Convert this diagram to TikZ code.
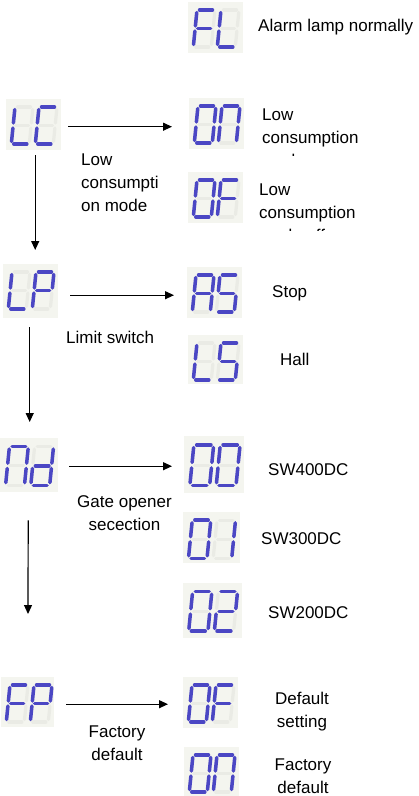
\documentclass[tikz,border=0pt]{standalone}
\usepackage{fontspec}
\setmainfont{Liberation Sans}
\usetikzlibrary{arrows.meta,calc}
\definecolor{lcdbg}{HTML}{F4F5EF}
\definecolor{segoff}{HTML}{EAEBE5}
\definecolor{segon}{HTML}{4B47C4}
\newcommand\ssega[1]{\draw[#1] (2.5,0)--(15.5,0);}
\newcommand\ssegb[1]{\draw[#1] (18,2.5)--(18,16);}
\newcommand\ssegc[1]{\draw[#1] (18,21)--(18,34.5);}
\newcommand\ssegd[1]{\draw[#1] (2.5,37)--(15.5,37);}
\newcommand\ssege[1]{\draw[#1] (0,21)--(0,34.5);}
\newcommand\ssegf[1]{\draw[#1] (0,2.5)--(0,16);}
\newcommand\ssegg[1]{\draw[#1] (2.5,18.5)--(15.5,18.5);}
\newcommand\sevenseg[1]{%
  \foreach \s in {a,b,c,d,e,f,g}{\csname sseg\s\endcsname{segghost}}%
  \foreach \s in {#1}{\csname sseg\s\endcsname{seglit}}%
}
\tikzset{
  segghost/.style={segoff, line width=3.2pt, line cap=round},
  seglit/.style={segon, line width=3.5pt, line cap=round},
  lcdbox/.style={rectangle, fill=lcdbg, inner sep=0pt, minimum width=55pt, minimum height=51pt, anchor=north west},
  lbl/.style={font=\fontsize{17}{23}\selectfont, inner sep=0pt, text=black},
  arr/.style={line width=1.2pt, -{Triangle[length=9pt,width=8pt]}},
  pics/lcd/.style 2 args={code={
    \begin{scope}[shift={(9,8)}, xslant=0.1]\sevenseg{#1}\end{scope}
    \begin{scope}[shift={(33,8)}, xslant=0.1]\sevenseg{#2}\end{scope}
  }}
}
\begin{document}
\begin{tikzpicture}[x=1pt,y=-1pt]
\useasboundingbox[fill=white] (0,0) rectangle (419,796);
% displays
\node[lcdbox] (fl) at (188,2) {};
\pic at (fl.north west) {lcd={a,e,f,g}{d,e,f}};
\node[lcdbox] (lc) at (6,99) {};
\pic at (lc.north west) {lcd={d,e,f}{a,d,e,f}};
\node[lcdbox] (on1) at (189,98) {};
\pic at (on1.north west) {lcd={a,b,c,d,e,f}{a,b,c,e,f}};
\node[lcdbox] (of1) at (188,172) {};
\pic at (of1.north west) {lcd={a,b,c,d,e,f}{a,e,f,g}};
\node[lcdbox, minimum height=54pt] (lp) at (3,264) {};
\pic at (lp.north west) {lcd={d,e,f}{a,b,e,f,g}};
\node[lcdbox] (as) at (187,267) {};
\pic at (as.north west) {lcd={a,b,c,e,f,g}{a,c,d,f,g}};
\node[lcdbox, minimum height=49pt] (ls) at (188,335) {};
\pic at (ls.north west) {lcd={d,e,f}{a,c,d,f,g}};
\node[lcdbox, minimum width=58pt, minimum height=54pt] (nd) at (0,438) {};
\pic[scale=1.05] at (nd.north west) {lcd={a,b,c,e,f}{b,c,d,e,g}};
\node[lcdbox, minimum width=60pt, minimum height=57pt] (d00) at (184,436) {};
\pic[scale=1.1] at (d00.north west) {lcd={a,b,c,d,e,f}{a,b,c,d,e,f}};
\node[lcdbox, minimum width=57pt] (d01) at (183,512) {};
\pic[scale=1.03] at (d01.north west) {lcd={a,b,c,d,e,f}{b,c}};
\node[lcdbox, minimum width=59pt, minimum height=55pt] (d02) at (183,583) {};
\pic[scale=1.07] at (d02.north west) {lcd={a,b,c,d,e,f}{a,b,d,e,g}};
\node[lcdbox, minimum width=53pt, minimum height=50pt] (fp) at (1,677) {};
\pic at (fp.north west) {lcd={a,e,f,g}{a,b,e,f,g}};
\node[lcdbox] (of2) at (183,677) {};
\pic at (of2.north west) {lcd={a,b,c,d,e,f}{a,e,f,g}};
\node[lcdbox] (on2) at (184,747) {};
\pic at (on2.north west) {lcd={a,b,c,d,e,f}{a,b,c,e,f}};
% labels
\node[lbl, anchor=west] (tfl) at (258,27) {Alarm lamp normally};
\begin{scope}
  \clip (250,95) rectangle (419,155);
  \node[lbl, anchor=west, align=left] (ton1) at (262,137.5) {Low\\consumption\\mode on};
\end{scope}
\node[lbl, anchor=west, align=left] (tlc) at (81,182.3) {Low\\consumpti\\on mode};
\begin{scope}
  \clip (250,170) rectangle (419,230.5);
  \node[lbl, anchor=west, align=left] (tof1) at (259,212.3) {Low\\consumption\\mode off};
\end{scope}
\node[lbl, anchor=west] (tas) at (272,293.5) {Stop};
\node[lbl, anchor=west] (tlp) at (66,337.5) {Limit switch};
\node[lbl, anchor=west] (tls) at (280,359) {Hall};
\node[lbl, anchor=west] (t00) at (268,469.5) {SW400DC};
\node[lbl, align=center] (tnd) at (124.5,513.5) {Gate opener\\secection};
\node[lbl, anchor=west] (t01) at (261,539) {SW300DC};
\node[lbl, anchor=west] (t02) at (268,613) {SW200DC};
\node[lbl, align=center] (tfp) at (117,743.5) {Factory\\default};
\node[lbl, align=center] (tof2) at (302,711.3) {Default\\setting};
\node[lbl, align=center] (ton2) at (303,776) {Factory\\default};
% connectors
\draw[arr] ($(lc.east)+(7,2)$) -- ($(lc.east -| on1.west)+(-17,2)$);
\draw[arr] ($(lp.east)+(12,4)$) -- ($(lp.east -| as.west)+(-13,4)$);
\draw[arr] ($(nd.east)+(11,1)$) -- ($(nd.east -| d00.west)+(-12,1)$);
\draw[arr] ($(fp.east)+(12,2)$) -- ($(fp.east -| of2.west)+(-15,2)$);
\draw[arr] ($(lc.south)+(1.5,5)$) -- ($(lc.south |- lp.north)+(1.5,-14)$);
\draw[arr] ($(lp.south)+(-1,9)$) -- ($(lp.south |- nd.north)+(-1,-16)$);
\coordinate (ndend) at (28,614);
\draw[arr] ($(nd.south)+(-1,28)$) -- (ndend);
\end{tikzpicture}
\end{document}
